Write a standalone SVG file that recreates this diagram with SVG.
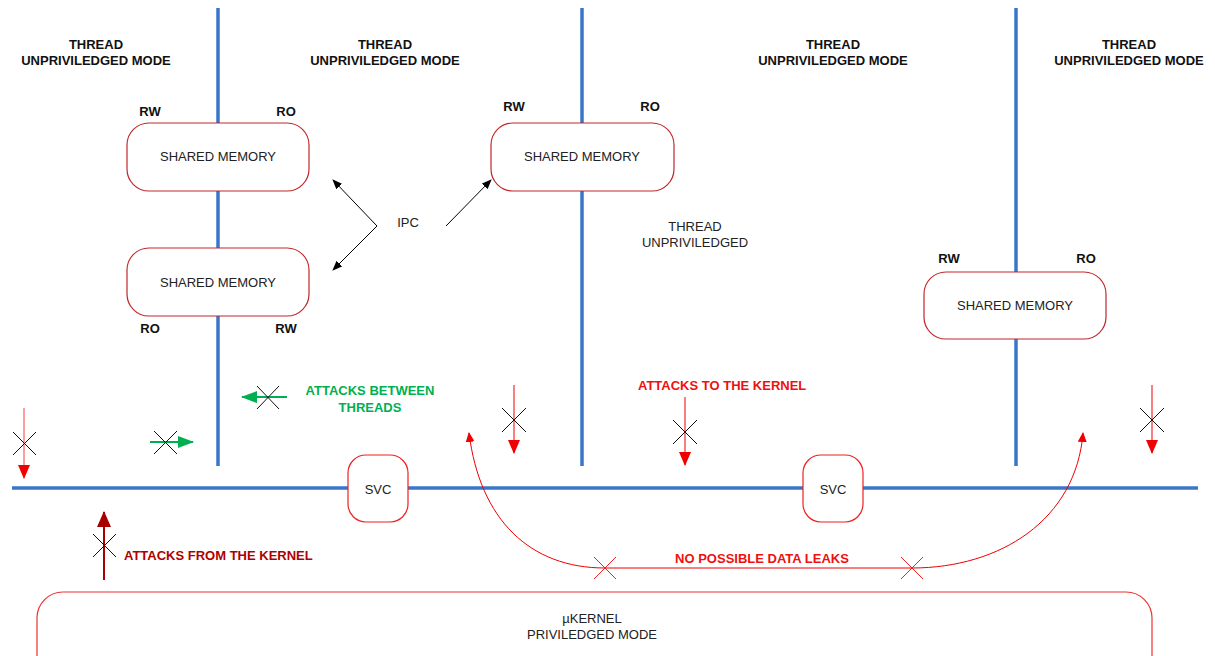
<svg xmlns="http://www.w3.org/2000/svg" width="1215" height="656" viewBox="0 0 1215 656">
<defs>
<style>
.bl{stroke:#3a76c8;stroke-width:3.5;fill:none}
.mem{fill:#fff;stroke:#c0282c;stroke-width:1.2}
.svc{fill:#fff;stroke:#f02020;stroke-width:1.2}
.t{font-family:"Liberation Sans",Arial,sans-serif;font-size:13px;fill:#222;text-anchor:middle}
.b{font-family:"Liberation Sans",Arial,sans-serif;font-size:13px;font-weight:bold;fill:#111;text-anchor:middle}
.rb{font-family:"Liberation Sans",Arial,sans-serif;font-size:13px;font-weight:bold;fill:#f01010}
.gb{font-family:"Liberation Sans",Arial,sans-serif;font-size:13px;font-weight:bold;fill:#00b050;text-anchor:middle}
.db{font-family:"Liberation Sans",Arial,sans-serif;font-size:13px;font-weight:bold;fill:#b00000}
.x{stroke:#111;stroke-width:1}
.rx{stroke:#f02020;stroke-width:1}
</style>
<marker id="ab" markerWidth="10" markerHeight="8" refX="9" refY="4" orient="auto" markerUnits="userSpaceOnUse"><path d="M0,0 L10,4 L0,8 Z" fill="#000"/></marker>
<marker id="ar" markerWidth="14" markerHeight="12" refX="13" refY="6" orient="auto" markerUnits="userSpaceOnUse"><path d="M0,0 L14,6 L0,12 Z" fill="#f00000"/></marker>
<marker id="ar2" markerWidth="10" markerHeight="9" refX="9" refY="4.5" orient="auto" markerUnits="userSpaceOnUse"><path d="M0,0 L10,4.5 L0,9 Z" fill="#f00000"/></marker>
<marker id="ag" markerWidth="16" markerHeight="12" refX="15" refY="6" orient="auto" markerUnits="userSpaceOnUse"><path d="M0,0 L16,6 L0,12 Z" fill="#00b050"/></marker>
<marker id="ad" markerWidth="16" markerHeight="14" refX="15" refY="7" orient="auto" markerUnits="userSpaceOnUse"><path d="M0,0 L16,7 L0,14 Z" fill="#a80000"/></marker>
</defs>

<g id="separators">
<line class="bl" x1="218" y1="8" x2="218" y2="466"/>
<line class="bl" x1="582" y1="8" x2="582" y2="466"/>
<line class="bl" x1="1016" y1="8" x2="1016" y2="466"/>
<line class="bl" x1="12" y1="488" x2="1198" y2="488"/>
</g>

<g id="labels-thread">
<text class="b" x="96" y="49">THREAD</text>
<text class="b" x="96" y="65">UNPRIVILEDGED MODE</text>
<text class="b" x="385" y="49">THREAD</text>
<text class="b" x="385" y="65">UNPRIVILEDGED MODE</text>
<text class="b" x="833" y="49">THREAD</text>
<text class="b" x="833" y="65">UNPRIVILEDGED MODE</text>
<text class="b" x="1129" y="49">THREAD</text>
<text class="b" x="1129" y="65">UNPRIVILEDGED MODE</text>
<text class="t" x="695" y="231">THREAD</text>
<text class="t" x="695" y="247">UNPRIVILEDGED</text>
</g>

<g id="mem1">
<rect class="mem" x="127" y="123" width="182" height="68" rx="22"/>
<text class="t" x="218" y="161">SHARED MEMORY</text>
<text class="b" x="150" y="116">RW</text>
<text class="b" x="286" y="116">RO</text>
</g>
<g id="mem2">
<rect class="mem" x="127" y="248" width="182" height="68" rx="22"/>
<text class="t" x="218" y="287">SHARED MEMORY</text>
<text class="b" x="150" y="333">RO</text>
<text class="b" x="286" y="333">RW</text>
</g>
<g id="mem3">
<rect class="mem" x="491" y="123" width="183" height="68" rx="22"/>
<text class="t" x="582" y="161">SHARED MEMORY</text>
<text class="b" x="514" y="111">RW</text>
<text class="b" x="650" y="111">RO</text>
</g>
<g id="mem4">
<rect class="mem" x="924" y="272" width="182" height="67" rx="22"/>
<text class="t" x="1015" y="310">SHARED MEMORY</text>
<text class="b" x="949" y="263">RW</text>
<text class="b" x="1086" y="263">RO</text>
</g>

<g id="ipc">
<text class="t" x="408" y="227">IPC</text>
</g>

<g id="svc1">
<rect class="svc" x="348" y="455" width="60" height="67" rx="18"/>
<text class="t" x="378" y="494">SVC</text>
</g>
<g id="svc2">
<rect class="svc" x="803" y="455" width="60" height="67" rx="18"/>
<text class="t" x="833" y="494">SVC</text>
</g>

<g id="kernel">
<rect x="37" y="592" width="1115" height="90" rx="26" fill="#fff" stroke="#f03030" stroke-width="1.2"/>
<text class="t" x="592" y="623">µKERNEL</text>
<text class="t" x="592" y="639">PRIVILEDGED MODE</text>
</g>

<g id="connectors">
<line x1="377" y1="226" x2="333" y2="180" stroke="#000" stroke-width="1" marker-end="url(#ab)"/>
<line x1="377" y1="226" x2="333" y2="270" stroke="#000" stroke-width="1" marker-end="url(#ab)"/>
<line x1="446" y1="226" x2="491" y2="180" stroke="#000" stroke-width="1" marker-end="url(#ab)"/>

<path d="M605,568 C530,568 480,520 469,433" fill="none" stroke="#f00000" stroke-width="1" marker-end="url(#ar2)"/>
<line x1="605" y1="568" x2="912" y2="568" stroke="#f00000" stroke-width="1"/>
<path d="M912,568 C1000,568 1076,520 1083,433" fill="none" stroke="#f00000" stroke-width="1" marker-end="url(#ar2)"/>

<line x1="24" y1="408" x2="24" y2="478" stroke="#f88080" stroke-width="1.5" marker-end="url(#ar)"/>
<line x1="514" y1="385" x2="514" y2="453" stroke="#f00000" stroke-width="1" marker-end="url(#ar)"/>
<line x1="685" y1="397" x2="685" y2="465" stroke="#f00000" stroke-width="1" marker-end="url(#ar)"/>
<line x1="1152" y1="385" x2="1152" y2="453" stroke="#f00000" stroke-width="1" marker-end="url(#ar)"/>

<line x1="287" y1="397" x2="242" y2="397" stroke="#00b050" stroke-width="2" marker-end="url(#ag)"/>
<line x1="150" y1="442" x2="193" y2="442" stroke="#00b050" stroke-width="2" marker-end="url(#ag)"/>

<line x1="104" y1="580" x2="104" y2="512" stroke="#a80000" stroke-width="2" marker-end="url(#ad)"/>
</g>

<g id="crosses">
<path class="x" d="M13,432 L36,455 M36,432 L13,455"/>
<path class="x" d="M502,408 L526,432 M526,408 L502,432"/>
<path class="x" d="M673,420 L697,444 M697,420 L673,444"/>
<path class="x" d="M1140,408 L1164,432 M1164,408 L1140,432"/>
<path class="x" d="M257,386 L279,409 M279,386 L257,409"/>
<path class="x" d="M154,431 L177,454 M177,431 L154,454"/>
<path class="x" d="M93,534 L116,557 M116,534 L93,557"/>
<path class="rx" d="M594,557 L616,579 M616,557 L594,579"/>
<path class="rx" d="M901,557 L923,579 M923,557 L901,579"/>
</g>

<g id="attack-labels">
<text class="gb" x="370" y="395">ATTACKS BETWEEN</text>
<text class="gb" x="370" y="412">THREADS</text>
<text class="rb" x="638" y="390">ATTACKS TO THE KERNEL</text>
<text class="db" x="124" y="560">ATTACKS FROM THE KERNEL</text>
<text class="rb" x="762" y="563" text-anchor="middle">NO POSSIBLE DATA LEAKS</text>
</g>
</svg>
